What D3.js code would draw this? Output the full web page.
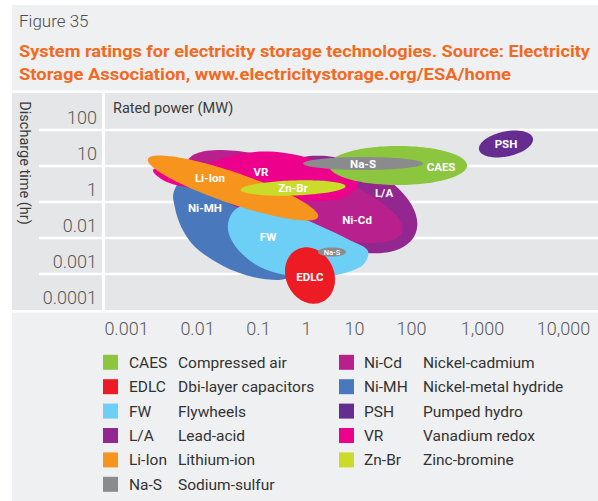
<!DOCTYPE html>
<html>
<head>
<meta charset="utf-8">
<script src="https://cdn.jsdelivr.net/npm/d3@7"></script>
<style>
  body { margin: 0; background: #ffffff; }
  svg { display: block; font-family: Roboto, "Open Sans", "DejaVu Sans", sans-serif; }
</style>
</head>
<body>
<svg id="chart" width="598" height="501"></svg>
<script>
// ---- Axis ticks ----
const powerTicks = [0.001, 0.01, 0.1, 1, 10, 100, 1000, 10000];
const powerLabels = ["0.001", "0.01", "0.1", "1", "10", "100", "1,000", "10,000"];
const durationTicks = [100, 10, 1, 0.01, 0.001, 0.0001];
const durationLabels = ["100", "10", "1", "0.01", "0.001", "0.0001"];

// ---- Technologies (legend order) ----
const techCodes = ["CAES", "EDLC", "FW", "L/A", "Li-Ion", "Na-S", "Ni-Cd", "Ni-MH", "PSH", "VR", "Zn-Br"];
const techNames = ["Compressed air", "Dbi-layer capacitors", "Flywheels", "Lead-acid", "Lithium-ion",
                   "Sodium-sulfur", "Nickel-cadmium", "Nickel-metal hydride", "Pumped hydro",
                   "Vanadium redox", "Zinc-bromine"];
const techColors = ["#8cc63f", "#ed1c24", "#6dcff6", "#92278f", "#f7941d", "#8a8b8d",
                    "#b8208e", "#4a78bd", "#662d91", "#ec008c", "#cbdb2a"];

// ---- Elliptical operating regions, in (MW, hours):
// centre, end of one semi-axis, end of the conjugate semi-axis, label anchor
const ellipseRegions = [
  { tech: "L/A",    centre: [6.98, 0.138],    axisA: [115, 0.0056],    axisB: [3.15, 0.0031],   label: [33.6, 0.6] },
  { tech: "Ni-Cd",  centre: [0.59, 0.383],    axisA: [70.6, 0.0065],   axisB: [0.365, 0.0089],  label: [11.3, 0.019] },
  { tech: "Li-Ion", centre: [0.0389, 1.066],  axisA: [1.78, 0.0278],   axisB: [0.0322, 0.173],  label: [0.0163, 2.02] },
  { tech: "Zn-Br",  centre: [0.536, 1.066],   axisA: [6.65, 1.196],    axisB: [0.544, 0.435],   label: [0.536, 1.066] },
  { tech: "EDLC",   centre: [1.21, 0.000395], axisA: [0.671, 0.00213], axisB: [3.44, 0.000755], label: [1.21, 0.00037] },
  { tech: "Na-S",   centre: [3.48, 0.00178],  axisA: [6.81, 0.00178],  axisB: [3.48, 0.00133],  label: [3.48, 0.00178], small: true },
  { tech: "CAES",   centre: [59.2, 4.5],      axisA: [615, 4.5],       axisB: [59.2, 1.29],     label: [265, 4.1] },
  { tech: "Na-S",   centre: [14.4, 5.1],      axisA: [147.5, 5.1],     axisB: [14.4, 3.37],     label: [14.4, 5.1] },
  { tech: "PSH",    centre: [1977, 17.8],     axisA: [4250, 25.6],     axisB: [2128, 8.15],     label: [1977, 17.8] }
];

// ---- Irregular operating regions, outlines in (MW, hours) ----
const niMHOutline = [[0.0047, 0.68], [0.0049, 0.088], [0.006, 0.0088], [0.0088, 0.0028], [0.017, 0.00114],
                     [0.044, 0.0005], [0.121, 0.00032], [0.38, 0.00032], [0.83, 0.00064], [1.33, 0.0028],
                     [0.95, 0.053], [0.196, 1.07], [0.035, 2.97], [0.008, 2.97]];
const fwOutline = [[0.032, 0.0094], [0.0375, 0.046], [0.057, 0.13], [0.121, 0.147], [0.46, 0.046],
                   [1.96, 0.0094], [8.25, 0.0038], [17.6, 0.0019], [15, 0.00083], [5.6, 0.00044],
                   [1.33, 0.00034], [0.365, 0.00041], [0.11, 0.00068], [0.053, 0.00167], [0.036, 0.0041]];
const vrOutline = [[0.0024, 3.37], [0.0049, 4.35], [0.0135, 4.95], [0.032, 7.7], [0.089, 10.7],
                   [0.365, 10], [1.54, 6.4], [6.5, 2.97], [11.8, 1.38], [6.5, 0.36], [1.54, 0.215],
                   [0.365, 0.28], [0.074, 0.53], [0.0197, 0.88], [0.0068, 1.14], [0.0033, 1.78]];
const outlineRegions = [
  { tech: "Ni-MH", outline: niMHOutline, label: [0.0135, 0.088] },
  { tech: "FW",    outline: fwOutline,   label: [0.162, 0.0046] },
  { tech: "VR",    outline: vrOutline,   label: [0.1155, 2.97] }
];

// stacking order, back to front
const drawOrder = ["Ni-MH", "L/A", "Ni-Cd", "FW", "VR", "Li-Ion", "Zn-Br", "EDLC", "Na-S", "CAES", "Na-S", "PSH"];

// ---------------------------------------------------------------------------
const W = 598, H = 501;
const svg = d3.select("#chart");
const colorOf = d3.scaleOrdinal().domain(techCodes).range(techColors);

const plotTop = 93, plotBottom = 310, plotLeft = 12;

// page panels
svg.append("rect").attr("x", 12).attr("y", 5).attr("width", W - 12).attr("height", H - 5).attr("fill", "#eff0f2");
svg.append("rect").attr("x", plotLeft).attr("y", plotTop).attr("width", W - plotLeft).attr("height", plotBottom - plotTop).attr("fill", "#e5e6e8");
svg.append("line").attr("x1", plotLeft).attr("x2", W).attr("y1", plotTop - 1.2).attr("y2", plotTop - 1.2).attr("stroke", "#ffffff").attr("stroke-width", 2.4);
svg.append("line").attr("x1", plotLeft).attr("x2", W).attr("y1", plotBottom + 1.2).attr("y2", plotBottom + 1.2).attr("stroke", "#ffffff").attr("stroke-width", 2.4);

// headings
svg.append("text").attr("x", 19).attr("y", 27).attr("font-size", 17).attr("font-weight", 300)
  .attr("fill", "#4d4d4f").text("Figure 35");
const titleLines = ["System ratings for electricity storage technologies. Source: Electricity",
                    "Storage Association, www.electricitystorage.org/ESA/home"];
const titleWidths = [571, 492];
svg.selectAll("text.title").data(titleLines).join("text").attr("class", "title")
  .attr("x", 19).attr("y", (d, i) => 57 + i * 23)
  .attr("font-size", 17).attr("font-weight", 700).attr("fill", "#f26a21")
  .attr("textLength", (d, i) => titleWidths[i]).attr("lengthAdjust", "spacingAndGlyphs")
  .text(d => d);

// ---- scales ----
// tick positions along the duration axis (one row per label)
const yRow = d3.scalePoint().domain(durationLabels).range([117, 297]);
const y = d3.scaleLog().domain(durationTicks).range(durationLabels.map(l => yRow(l)));
// tick positions along the power axis
const x = d3.scaleLog().domain(powerTicks).range([126, 197, 258, 306, 354, 411, 482, 563]);

// row separators
svg.append("g").selectAll("line").data(durationLabels.slice(0, -1)).join("line")
  .attr("x1", 39).attr("x2", W)
  .attr("y1", d => yRow(d) + 13).attr("y2", d => yRow(d) + 13)
  .attr("stroke", "#ffffff").attr("stroke-width", 2.6);
svg.append("line").attr("x1", 103.5).attr("x2", 103.5).attr("y1", plotTop).attr("y2", plotBottom)
  .attr("stroke", "#ffffff").attr("stroke-width", 3);

// y axis (labels only)
const yAxis = d3.axisLeft(y).tickValues(durationTicks).tickFormat((d, i) => durationLabels[i]).tickSize(0).tickPadding(0);
const gy = svg.append("g").attr("transform", "translate(97,0)").call(yAxis);
gy.select(".domain").remove();
gy.selectAll("text").attr("dy", "0.35em").attr("font-family", "Roboto, sans-serif").attr("font-size", 18).attr("font-weight", 300).attr("fill", "#58595b");

// x axis (labels only)
const xAxis = d3.axisBottom(x).tickValues(powerTicks).tickFormat((d, i) => powerLabels[i]).tickSize(0).tickPadding(0);
const gx = svg.append("g").attr("transform", "translate(0,329)").call(xAxis);
gx.select(".domain").remove();
gx.selectAll("text").attr("dy", "0.35em").attr("font-family", "Roboto, sans-serif").attr("font-size", 18).attr("font-weight", 300).attr("fill", "#58595b");

// axis titles
svg.append("text").attr("transform", "translate(25.5,163) rotate(90)").attr("text-anchor", "middle")
  .attr("dy", "0.35em").attr("font-size", 14.5).attr("fill", "#3a3a3c").text("Discharge time (hr)");
svg.append("text").attr("x", 113).attr("y", 108).attr("dy", "0.35em").attr("font-size", 14.5)
  .attr("fill", "#3a3a3c").text("Rated power (MW)");

// ---- regions ----
const closedLine = d3.line().curve(d3.curveCatmullRomClosed.alpha(0.5));
const straightClosed = d3.line().curve(d3.curveLinearClosed);

function ellipsePath(r) {
  const c = [x(r.centre[0]), y(r.centre[1])];
  const a = [x(r.axisA[0]) - c[0], y(r.axisA[1]) - c[1]];
  const b = [x(r.axisB[0]) - c[0], y(r.axisB[1]) - c[1]];
  const pts = d3.range(120).map(i => {
    const t = i / 120 * 2 * Math.PI;
    return [c[0] + Math.cos(t) * a[0] + Math.sin(t) * b[0], c[1] + Math.cos(t) * a[1] + Math.sin(t) * b[1]];
  });
  return straightClosed(pts);
}
function outlinePath(r) {
  return closedLine(r.outline.map(p => [x(p[0]), y(p[1])]));
}

// build the layer list following the stacking order
const pool = [...ellipseRegions.map(r => ({ ...r, kind: "ellipse" })), ...outlineRegions.map(r => ({ ...r, kind: "outline" }))];
const used = new Set();
const layers = drawOrder.map(code => {
  const r = pool.find(p => p.tech === code && !used.has(p));
  used.add(r);
  return r;
});

const gRegions = svg.append("g");
gRegions.selectAll("path").data(layers).join("path")
  .attr("d", r => r.kind === "ellipse" ? ellipsePath(r) : outlinePath(r))
  .attr("fill", r => colorOf(r.tech));

const gLabels = svg.append("g");
gLabels.selectAll("text").data(layers).join("text")
  .attr("x", r => x(r.label[0])).attr("y", r => y(r.label[1]))
  .attr("dy", "0.36em").attr("text-anchor", "middle")
  .attr("font-size", r => r.small ? 7.5 : 11.5).attr("font-weight", r => r.small ? 500 : 700)
  .attr("fill", "#ffffff").text(r => r.tech);

// ---- legend ----
const legendRows = 6;
const legend = svg.append("g");
const item = legend.selectAll("g").data(techCodes).join("g")
  .attr("transform", (d, i) => `translate(${i < legendRows ? 103 : 339},${362.3 + (i % legendRows) * 24.4})`);
item.append("rect").attr("x", 0).attr("y", -7.5).attr("width", 15).attr("height", 15).attr("fill", d => colorOf(d));
item.append("text").attr("x", (d, i) => i < legendRows ? 26 : 25).attr("dy", "0.36em")
  .attr("font-size", 15.5).attr("fill", "#333333").text(d => d);
item.append("text").attr("x", (d, i) => i < legendRows ? 75 : 84).attr("dy", "0.36em")
  .attr("font-size", 15.5).attr("fill", "#333333").text((d, i) => techNames[i]);
</script>
</body>
</html>
